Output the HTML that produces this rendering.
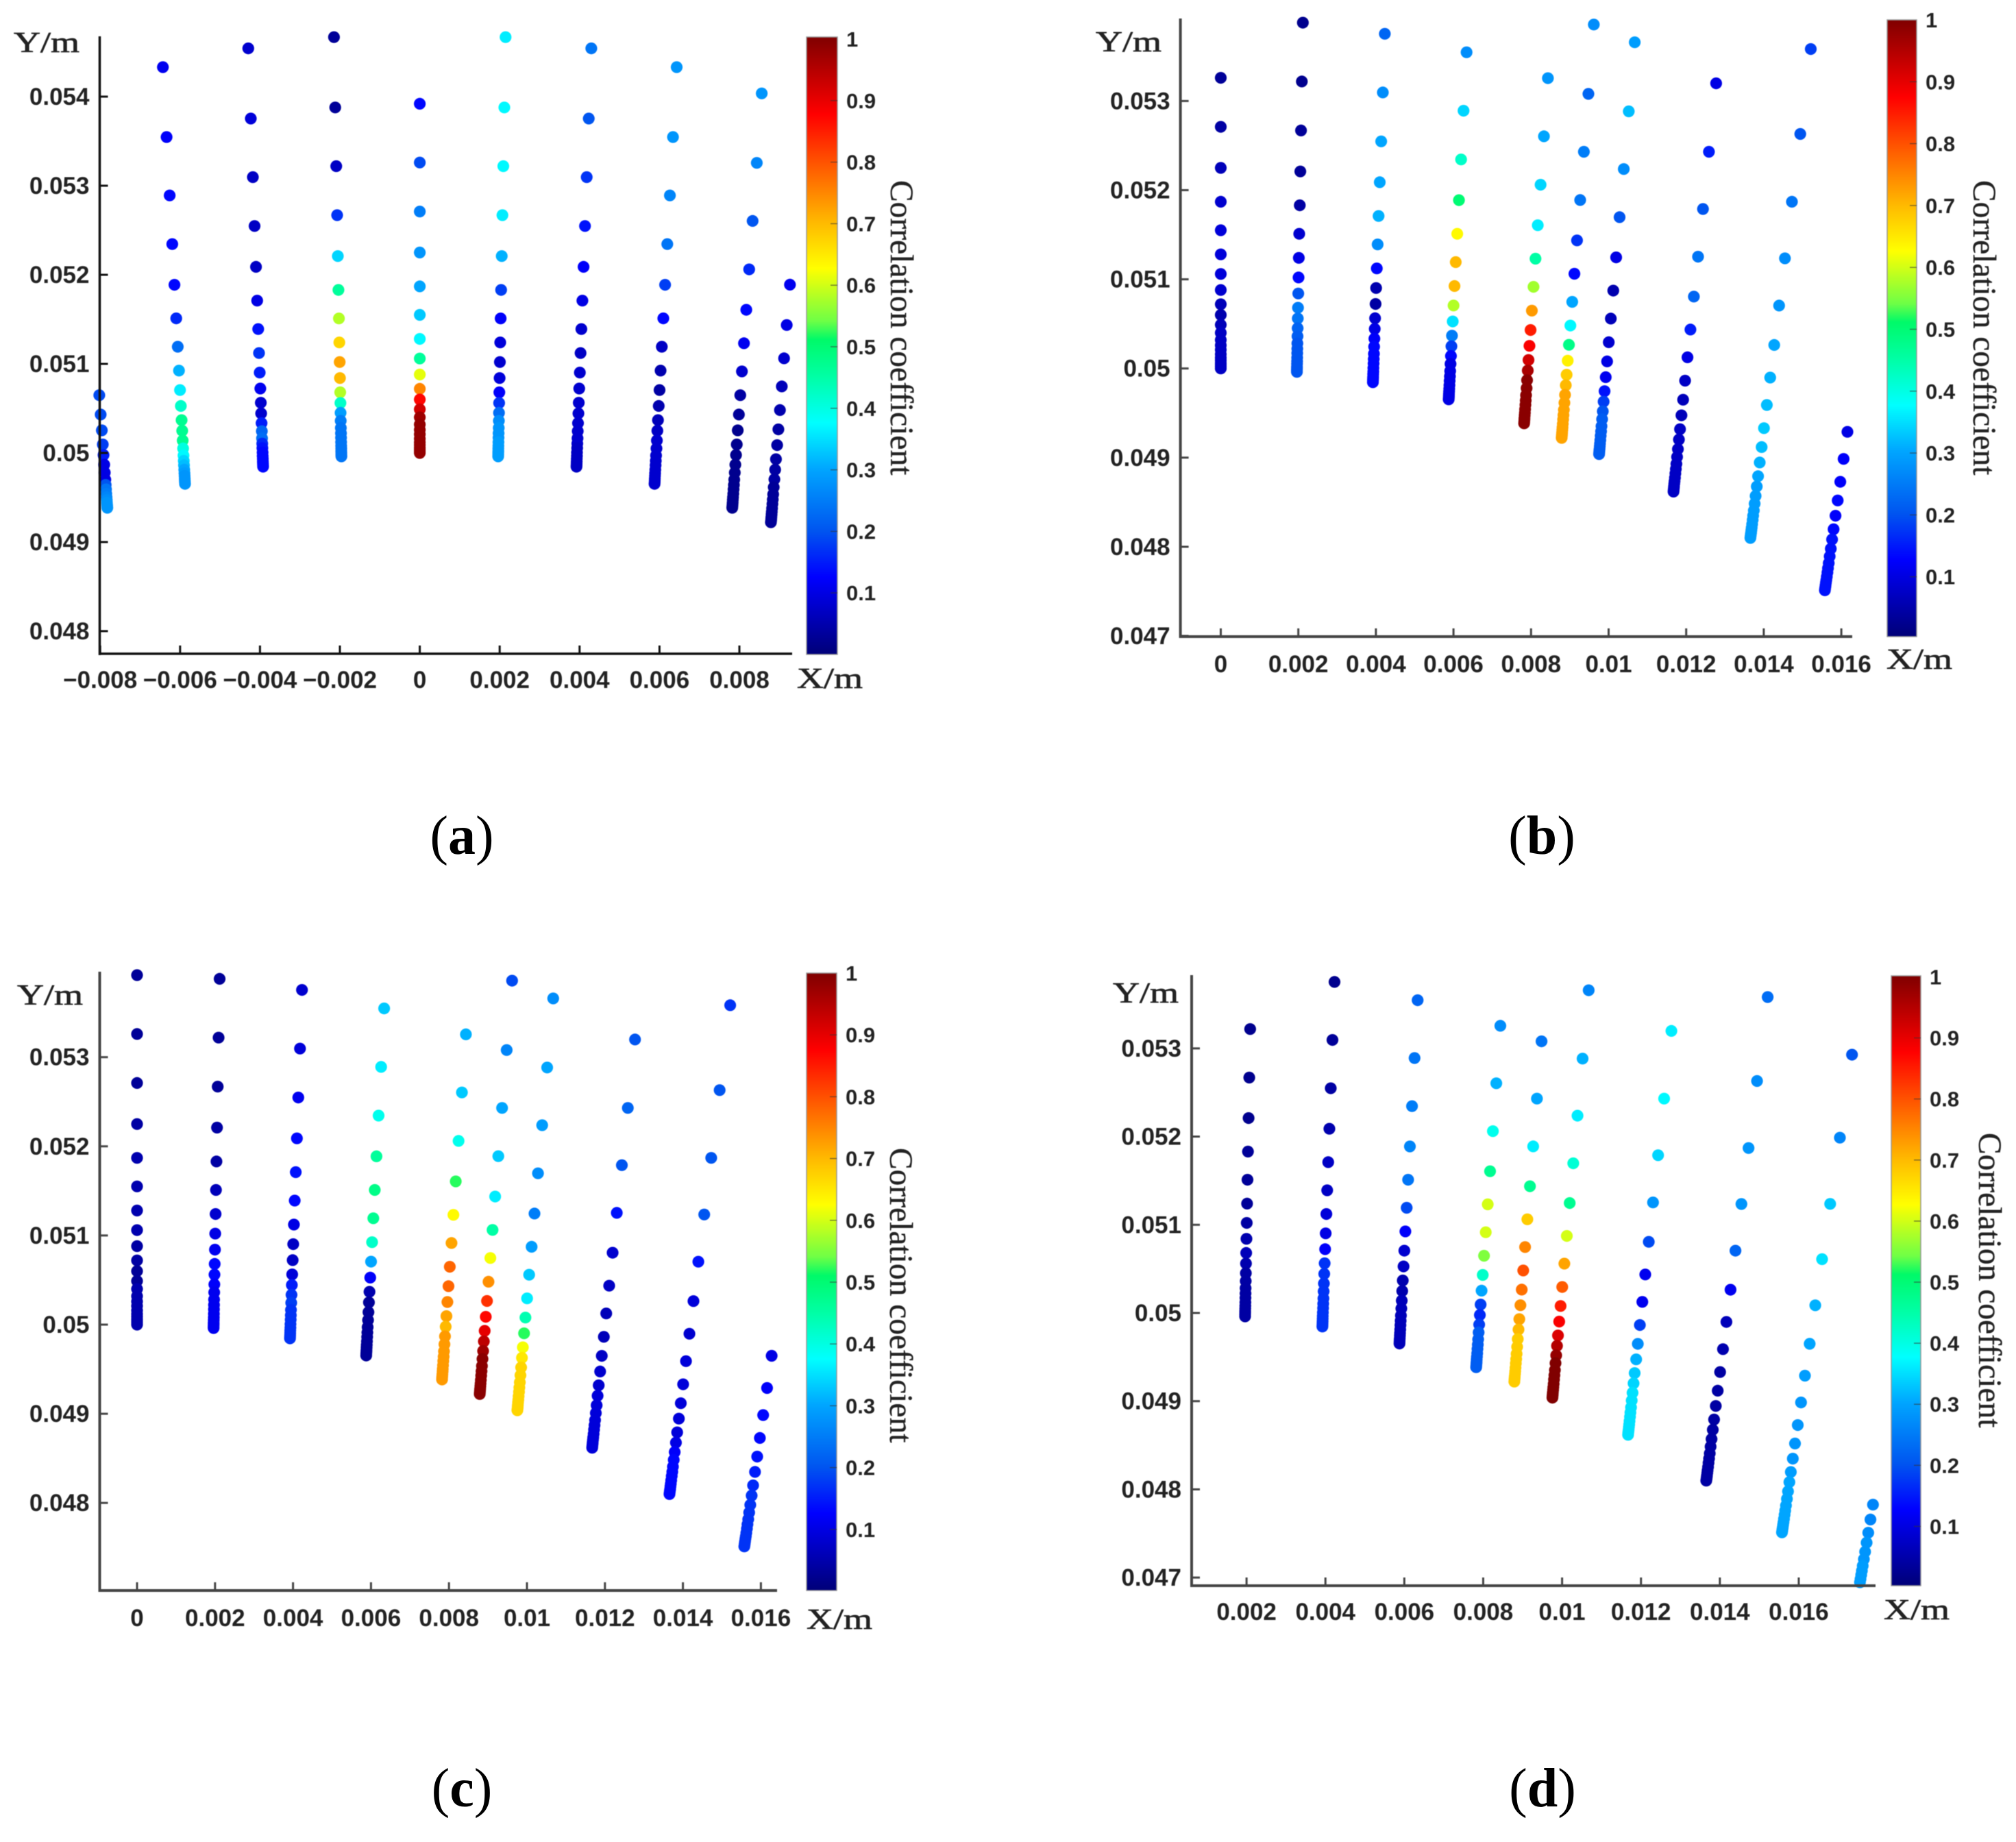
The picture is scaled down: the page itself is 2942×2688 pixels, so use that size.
<!DOCTYPE html>
<html lang="en">
<head>
<meta charset="utf-8">
<title>Correlation coefficient scatter panels</title>
<style>
html,body{margin:0;padding:0;background:#fff;width:2942px;height:2688px;overflow:hidden}
svg{display:block;position:absolute;left:0;top:0}
.tick{font-family:"Liberation Sans",sans-serif;font-weight:700;font-size:35px;fill:#222}
.cbtick{font-family:"Liberation Sans",sans-serif;font-weight:700;font-size:31px;fill:#222}
.axis-name{font-family:"Liberation Serif",serif;font-size:42px;fill:#222;stroke:#222;stroke-width:.7px}
.cb-title{font-family:"Liberation Serif",serif;font-size:47.5px;fill:#222;stroke:#222;stroke-width:.4px}
.caption{font-family:"Liberation Serif",serif;font-size:80px;fill:#000}
.caption tspan{font-weight:700}
.soft{filter:blur(.6px)}
</style>
</head>
<body>
<svg id="figure" xmlns="http://www.w3.org/2000/svg" width="2942" height="2688" viewBox="0 0 2942 2688">
<defs>
<linearGradient id="jetBar" x1="0" y1="1" x2="0" y2="0">
<stop offset="0" stop-color="rgb(0,0,120)"/>
<stop offset=".125" stop-color="rgb(0,0,255)"/>
<stop offset=".2" stop-color="rgb(0,85,240)"/>
<stop offset=".3" stop-color="rgb(0,165,255)"/>
<stop offset=".375" stop-color="rgb(0,255,255)"/>
<stop offset=".45" stop-color="rgb(0,255,165)"/>
<stop offset=".51" stop-color="rgb(0,250,105)"/>
<stop offset=".54" stop-color="rgb(110,255,70)"/>
<stop offset=".625" stop-color="rgb(255,255,0)"/>
<stop offset=".7" stop-color="rgb(255,185,0)"/>
<stop offset=".8" stop-color="rgb(255,80,0)"/>
<stop offset=".875" stop-color="rgb(255,0,0)"/>
<stop offset="1" stop-color="rgb(128,0,0)"/>
</linearGradient>
</defs>
<text class="caption" x="674" y="1246" text-anchor="middle">(<tspan>a</tspan>)</text>
<text class="caption" x="2250" y="1246" text-anchor="middle">(<tspan>b</tspan>)</text>
<text class="caption" x="674" y="2636" text-anchor="middle">(<tspan>c</tspan>)</text>
<text class="caption" x="2251" y="2636" text-anchor="middle">(<tspan>d</tspan>)</text>
</svg>
<script>
// Radial mesh stations (m), outermost to innermost; a column with n values uses the last n stations.
const radialStations = [0.0557,0.05471,0.05392,0.05326,0.05271,0.05225,0.05187,0.05155,0.05128,0.05106,0.05088,0.05072,0.0506,0.05049,0.0504,0.05032,0.05026,0.05021,0.05016,0.05012,0.05009,0.05006,0.05004,0.05002,0.05];
const colorbarTicks = [0.1,0.2,0.3,0.4,0.5,0.6,0.7,0.8,0.9,1];
const colorbarLabels = ['0.1','0.2','0.3','0.4','0.5','0.6','0.7','0.8','0.9','1'];

// Panel (a)
const panelAAngles = [-9,-6.75,-4.5,-2.25,0,2.25,4.5,6.75,9,10.125];
const panelACorr = [
[.19,.19,.19,.18,.15,.1,.1,.1,.2,.24,.25,.26,.27,.28,.28,.28,.28],
[.11,.12,.13,.13,.13,.16,.23,.31,.36,.42,.47,.47,.47,.4,.37,.34,.32,.3,.29,.28,.28,.28,.28,.28],
[.08,.09,.07,.07,.07,.1,.14,.17,.15,.11,.08,.08,.15,.22,.23,.16,.14,.13,.13,.13,.13,.13,.13,.13],
[.03,.03,.07,.17,.34,.46,.58,.67,.72,.7,.58,.42,.29,.25,.24,.24,.24,.24,.24,.24,.24,.24,.24,.24],
[.13,.19,.25,.28,.3,.33,.37,.46,.61,.75,.87,.92,.97,.98,.98,.98,.98,.98,.98,.98,.98,.98,.98],
[.36,.37,.37,.36,.31,.18,.12,.09,.08,.09,.12,.17,.23,.27,.28,.28,.28,.29,.29,.29,.29,.29,.29,.29],
[.24,.2,.17,.14,.12,.1,.08,.07,.08,.08,.08,.08,.08,.08,.08,.08,.07,.07,.07,.07,.07,.07,.07,.07],
[.28,.28,.26,.24,.18,.13,.07,.05,.04,.05,.06,.07,.08,.08,.08,.08,.08,.08,.08,.08,.08,.08,.08,.08],
[.28,.26,.2,.16,.13,.11,.08,.04,.03,.02,.02,.02,.02,.02,.02,.02,.02,.02,.02,.02,.02,.02,.02,.02],
[.11,.1,.08,.06,.05,.04,.04,.04,.04,.04,.03,.03,.03,.03,.03,.03,.03,.03,.03,.03,.03]
];
const panelAXTicks = [-0.008,-0.006,-0.004,-0.002,0,0.002,0.004,0.006,0.008];
const panelAXLabels = ['\u22120.008','\u22120.006','\u22120.004','\u22120.002','0','0.002','0.004','0.006','0.008'];
const panelAYTicks = [0.048,0.049,0.05,0.051,0.052,0.053,0.054];
const panelAYLabels = ['0.048','0.049','0.05','0.051','0.052','0.053','0.054'];

// Panel (b)
const panelBAngles = [0,2.25,4.5,6.75,9,10.125,11.25,13.5,15.85,18.15];
const panelBCorr = [
[.03,.04,.06,.08,.09,.09,.09,.08,.06,.05,.06,.07,.07,.07,.07,.07,.07,.07,.07,.07,.07,.07],
[.02,.02,.03,.03,.04,.08,.1,.13,.2,.25,.24,.22,.21,.2,.2,.2,.2,.2,.2,.2,.2,.2,.2],
[.22,.27,.3,.3,.31,.27,.13,.05,.04,.08,.1,.12,.13,.13,.13,.13,.13,.13,.13,.13,.13,.13,.13],
[.27,.34,.42,.5,.63,.7,.7,.58,.35,.25,.18,.13,.1,.1,.1,.1,.1,.1,.1,.1,.1,.1,.1],
[.28,.3,.34,.36,.45,.57,.73,.85,.88,.92,.96,.99,.99,.99,.99,.99,.99,.99,.99,.99,.99,.99,.99],
[.27,.22,.25,.24,.17,.13,.3,.37,.48,.64,.68,.7,.72,.72,.72,.72,.72,.72,.72,.72,.72,.72,.72,.72],
[.29,.32,.27,.2,.1,.05,.06,.08,.1,.11,.14,.18,.2,.21,.21,.21,.21,.21,.21,.21,.21,.21,.21,.21],
[.1,.15,.2,.24,.22,.15,.1,.07,.06,.06,.07,.07,.07,.07,.07,.07,.07,.07,.07,.07,.07,.07,.07,.07],
[.18,.2,.24,.27,.28,.3,.31,.32,.33,.32,.31,.3,.29,.29,.29,.29,.29,.29,.29,.29,.29,.29,.29,.29,.29],
[.1,.12,.12,.13,.12,.13,.14,.14,.14,.14,.14,.14,.14,.14,.14,.14,.14,.14,.14]
];
const panelBXTicks = [0,0.002,0.004,0.006,0.008,0.01,0.012,0.014,0.016];
const panelBXLabels = ['0','0.002','0.004','0.006','0.008','0.01','0.012','0.014','0.016'];
const panelBYTicks = [0.047,0.048,0.049,0.05,0.051,0.052,0.053];
const panelBYLabels = ['0.047','0.048','0.049','0.05','0.051','0.052','0.053'];

// Panel (c)
const panelCAngles = [0,2.25,4.5,6.75,9,10.125,11.25,13.5,15.85,18.15];
const panelCCorr = [
[.03,.03,.03,.04,.05,.05,.05,.05,.04,.04,.03,.03,.05,.05,.05,.05,.05,.05,.05,.05,.05,.05,.05],
[.03,.03,.03,.04,.04,.06,.08,.1,.11,.13,.13,.12,.11,.11,.11,.11,.11,.11,.11,.11,.11,.11,.11],
[.08,.09,.11,.13,.14,.13,.1,.07,.07,.09,.15,.17,.18,.17,.17,.17,.17,.17,.17,.17,.17,.17,.17],
[.33,.36,.39,.46,.48,.47,.42,.3,.12,.05,.03,.03,.03,.03,.03,.03,.03,.03,.03,.03,.03,.03,.03],
[.31,.33,.39,.52,.63,.72,.78,.78,.75,.72,.7,.73,.73,.73,.73,.73,.73,.73,.73,.73,.73,.73,.73],
[.19,.26,.3,.33,.36,.45,.62,.74,.83,.87,.9,.94,.97,.99,.99,.99,.99,.99,.99,.99,.99,.99,.99,.99],
[.27,.3,.29,.27,.25,.29,.33,.36,.44,.52,.62,.65,.67,.67,.67,.67,.67,.67,.67,.67,.67,.67,.67,.67],
[.2,.22,.2,.14,.08,.07,.06,.06,.07,.08,.08,.09,.09,.09,.09,.09,.09,.09,.09,.09,.09,.09,.09,.09],
[.17,.2,.2,.2,.14,.09,.08,.09,.09,.09,.09,.09,.1,.12,.13,.13,.13,.13,.13,.13,.13,.13,.13,.13,.13],
[.1,.12,.13,.13,.14,.15,.16,.17,.17,.17,.17,.17,.17,.17,.17,.17,.17,.17,.17,.17]
];
const panelCXTicks = [0,0.002,0.004,0.006,0.008,0.01,0.012,0.014,0.016];
const panelCXLabels = ['0','0.002','0.004','0.006','0.008','0.01','0.012','0.014','0.016'];
const panelCYTicks = [0.048,0.049,0.05,0.051,0.052,0.053];
const panelCYLabels = ['0.048','0.049','0.05','0.051','0.052','0.053'];

// Panel (d)
const panelDAngles = [2.25,4.5,6.75,9,10.125,11.25,13.5,15.85,18.15,20.5];
const panelDCorr = [
[.02,.02,.02,.03,.03,.03,.04,.05,.06,.05,.04,.04,.04,.04,.04,.04,.04,.04,.04,.04,.04,.04],
[.02,.03,.04,.05,.07,.07,.09,.1,.12,.17,.17,.17,.17,.17,.17,.17,.17,.17,.17,.17,.17,.17,.17],
[.22,.24,.25,.26,.24,.19,.12,.08,.07,.05,.05,.06,.06,.06,.06,.06,.06,.06,.06,.06,.06,.06,.06],
[.27,.31,.39,.47,.6,.6,.55,.42,.3,.18,.16,.18,.21,.21,.21,.21,.21,.21,.21,.21,.21,.21,.21],
[.24,.3,.36,.47,.68,.75,.8,.77,.74,.72,.7,.68,.68,.68,.68,.68,.68,.68,.68,.68,.68,.68,.68],
[.26,.31,.36,.41,.47,.6,.72,.79,.85,.88,.91,.95,.98,1,1,1,1,1,1,1,1,1,1,1],
[.36,.37,.34,.28,.19,.11,.11,.18,.27,.31,.33,.34,.35,.35,.35,.35,.35,.35,.35,.35,.35,.35,.35,.35],
[.23,.27,.28,.28,.22,.11,.06,.05,.04,.04,.04,.04,.04,.04,.04,.04,.04,.04,.04,.04,.04,.04,.04,.04,.04],
[.2,.26,.33,.35,.31,.3,.29,.28,.28,.28,.28,.29,.3,.3,.3,.3,.3,.3,.3,.3,.3,.3,.3,.3,.3],
[.26,.26,.27,.28,.28,.28,.29,.29,.29,.29,.29,.29,.29,.29,.29,.29]
];
const panelDXTicks = [0.002,0.004,0.006,0.008,0.01,0.012,0.014,0.016];
const panelDXLabels = ['0.002','0.004','0.006','0.008','0.01','0.012','0.014','0.016'];
const panelDYTicks = [0.047,0.048,0.049,0.05,0.051,0.052,0.053];
const panelDYLabels = ['0.047','0.048','0.049','0.05','0.051','0.052','0.053'];

const SVGNS = 'http://www.w3.org/2000/svg';
const figure = document.getElementById('figure');

function jetColor(c){
  const s = [[0,0,0,120],[.125,0,0,255],[.2,0,85,240],[.3,0,165,255],[.375,0,255,255],[.45,0,255,165],[.51,0,250,105],[.54,110,255,70],[.625,255,255,0],[.7,255,185,0],[.8,255,80,0],[.875,255,0,0],[1,128,0,0]];
  const v = Math.max(0, Math.min(1, c));
  for (let i = 1; i < s.length; i++) {
    if (v <= s[i][0]) {
      const t = (v - s[i-1][0]) / (s[i][0] - s[i-1][0]);
      const mix = k => Math.round(s[i-1][k] + (s[i][k] - s[i-1][k]) * t);
      return 'rgb(' + mix(1) + ',' + mix(2) + ',' + mix(3) + ')';
    }
  }
  return 'rgb(128,0,0)';
}

function make(tag, parent, attrs, text){
  const el = document.createElementNS(SVGNS, tag);
  for (const k in attrs) el.setAttribute(k, attrs[k]);
  if (text !== undefined) el.textContent = text;
  parent.appendChild(el);
  return el;
}

function drawPanel(p, angles, corr, xTicks, xLabels, yTicks, yLabels){
  const xScale = v => p.x0 + v * 1000 * p.xmm;
  const yScale = v => p.y50 - (v - 0.05) * 1000 * p.ymm;
  const cbScale = v => p.cb1 + (1 - v) * p.cbUnit;

  const g = make('g', figure, {});
  
  

  const points = make('g', g, {class: 'soft'});
  
  
  angles.forEach((deg, ci) => {
    const th = deg * Math.PI / 180;
    const values = corr[ci];
    const rs = radialStations.slice(radialStations.length - values.length);
    values.forEach((c, i) => {
      const py = yScale(rs[i] * Math.cos(th));
      if (py > p.bottom - 4) return; // outside the axis limits, as in the source plot
      const dot = make('circle', points, {
        cx: xScale(rs[i] * Math.sin(th)).toFixed(1),
        cy: py.toFixed(1),
        r: 8.6,
        fill: jetColor(c)
      });
      
      
    });
  });

  const axes = make('g', g, {class: 'soft'});
  
  
  const yAxis = make('line', axes, {x1: p.left, x2: p.left, y1: p.top, y2: p.bottom + 2, stroke: p.axisColor, 'stroke-width': p.axisWidth});
  
  
  const xAxis = make('line', axes, {x1: p.left, x2: p.right, y1: p.bottom, y2: p.bottom, stroke: p.axisColor, 'stroke-width': p.axisWidth});
  
  

  xTicks.forEach((v, i) => {
    const x = xScale(v);
    const t = make('line', axes, {x1: x, x2: x, y1: p.bottom - 12, y2: p.bottom, stroke: p.axisColor, 'stroke-width': 3});
    
    
    const l = make('text', axes, {class: 'tick', x: x, y: p.bottom + p.xLabelDy, 'text-anchor': 'middle'}, xLabels[i]);
    
    
  });
  yTicks.forEach((v, i) => {
    const y = yScale(v);
    const t = make('line', axes, {x1: p.left, x2: p.left + 12, y1: y, y2: y, stroke: p.axisColor, 'stroke-width': 3});
    
    
    const l = make('text', axes, {class: 'tick', x: p.left - 15, y: y + 12, 'text-anchor': 'end'}, yLabels[i]);
    
    
  });

  const yName = make('text', axes, {class: 'axis-name', x: p.yNameX, y: p.yNameY, textLength: 96, lengthAdjust: 'spacingAndGlyphs'}, 'Y/m');
  
  
  const xName = make('text', axes, {class: 'axis-name', x: p.xNameX, y: p.xNameY, textLength: 96, lengthAdjust: 'spacingAndGlyphs'}, 'X/m');
  
  

  const bar = make('g', g, {class: 'soft'});
  
  
  const rect = make('rect', bar, {x: p.cbLeft, y: p.cbTop, width: p.cbWidth, height: p.cbBottom - p.cbTop, fill: 'url(#jetBar)', stroke: '#999', 'stroke-width': 1.5});
  
  
  colorbarTicks.forEach((v, i) => {
    const y = cbScale(v);
    if (v < 1) {
      const t = make('line', bar, {x1: p.cbLeft + p.cbWidth - 10, x2: p.cbLeft + p.cbWidth, y1: y, y2: y, stroke: '#333', 'stroke-width': 1.5, 'stroke-opacity': .6});
      
      
    }
    const l = make('text', bar, {class: 'cbtick', x: p.cbLeft + p.cbWidth + 13, y: y + 11}, colorbarLabels[i]);
    
    
  });
  const title = make('text', bar, {class: 'cb-title', x: p.cbTitleX, y: p.cbTitleY, transform: 'rotate(90 ' + p.cbTitleX + ' ' + p.cbTitleY + ')'}, 'Correlation coefficient');
  
  
}

drawPanel({id:'a', x0:612.6, xmm:58.3, y50:661, ymm:130, left:145.5, right:1156, top:53, bottom:954, axisColor:'#111', axisWidth:3.5, xLabelDy:50,
  yNameX:20, yNameY:76, xNameX:1163, xNameY:1004,
  cbLeft:1177, cbWidth:45, cbTop:54, cbBottom:955, cb1:57, cbUnit:898, cbTitleX:1300, cbTitleY:263},
  panelAAngles, panelACorr, panelAXTicks, panelAXLabels, panelAYTicks, panelAYLabels);

drawPanel({id:'b', x0:1781.5, xmm:56.6, y50:537.7, ymm:130.1, left:1722.6, right:2703, top:27, bottom:929, axisColor:'#444', axisWidth:4, xLabelDy:52,
  yNameX:1599, yNameY:75, xNameX:2753, xNameY:976,
  cbLeft:2754, cbWidth:43, cbTop:29, cbBottom:929, cb1:29, cbUnit:903, cbTitleX:2880, cbTitleY:263},
  panelBAngles, panelBCorr, panelBXTicks, panelBXLabels, panelBYTicks, panelBYLabels);

drawPanel({id:'c', x0:200, xmm:56.9, y50:1933, ymm:130.1, left:145.5, right:1134, top:1418, bottom:2321, axisColor:'#444', axisWidth:4, xLabelDy:52,
  yNameX:25, yNameY:1466, xNameX:1177, xNameY:2377,
  cbLeft:1177, cbWidth:44, cbTop:1420, cbBottom:2321, cb1:1420, cbUnit:902, cbTitleX:1299, cbTitleY:1675},
  panelCAngles, panelCCorr, panelCXTicks, panelCXLabels, panelCYTicks, panelCYLabels);

drawPanel({id:'d', x0:1704, xmm:57.56, y50:1916, ymm:128.7, left:1739, right:2737, top:1423, bottom:2314, axisColor:'#444', axisWidth:4, xLabelDy:50,
  yNameX:1624, yNameY:1463, xNameX:2749, xNameY:2363,
  cbLeft:2760, cbWidth:43, cbTop:1424, cbBottom:2314, cb1:1425.5, cbUnit:891, cbTitleX:2888, cbTitleY:1653},
  panelDAngles, panelDCorr, panelDXTicks, panelDXLabels, panelDYTicks, panelDYLabels);
</script>
</body>
</html>
